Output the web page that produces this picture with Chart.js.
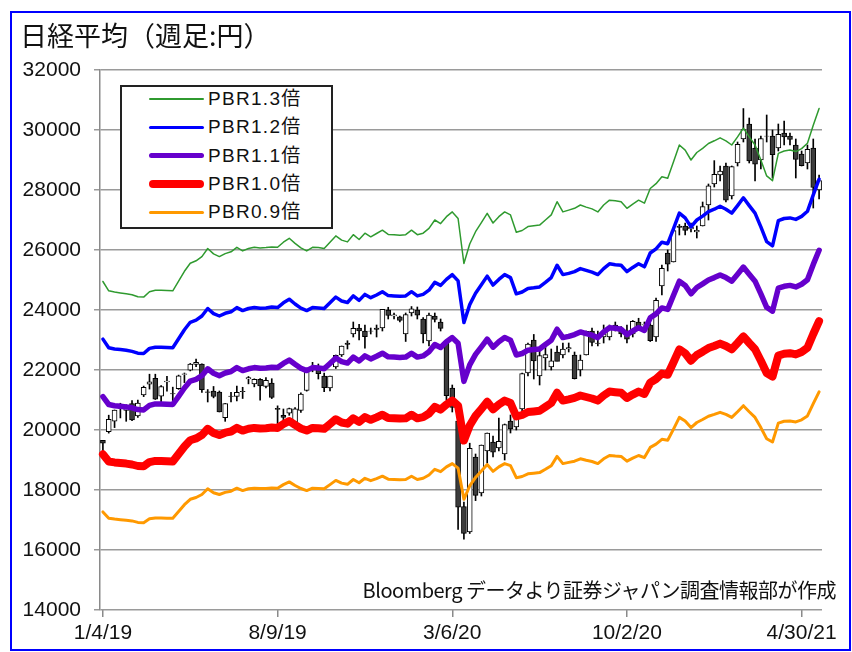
<!DOCTYPE html>
<html>
<head>
<meta charset="utf-8">
<script src="https://cdn.jsdelivr.net/npm/chart.js@4/dist/chart.umd.min.js"></script>
<style>
  html, body { margin: 0; padding: 0; background: #fff; }
  #wrap { position: relative; width: 852px; height: 652px; overflow: hidden; }
  #frame { position: absolute; left: 10px; top: 11px; width: 837px; height: 636px; border: 2px solid #0000ff; }
  #chart { position: absolute; left: 0; top: 0; }
  #title { position: absolute; left: 20px; top: 21px; font: 27px "Noto Sans CJK JP"; line-height: 1; color: #111; white-space: nowrap; }
  #legend { position: absolute; left: 120px; top: 85px; width: 209px; height: 140px; border: 2px solid #222; background: #fff; }
  #legend .swatch { position: absolute; left: 27px; width: 55px; border-radius: 4px; }
  #legend .label { position: absolute; left: 86px; font: 19px "Liberation Sans", "Noto Sans CJK JP"; letter-spacing: 1.3px; line-height: 1; color: #111; white-space: nowrap; }
  #note { position: absolute; right: 16px; top: 580px; font: 20px "Noto Sans CJK JP"; line-height: 1; color: #111; white-space: nowrap; letter-spacing: -0.5px; }
</style>
</head>
<body>
<div id="wrap">
  <div id="frame"></div>
  <canvas id="chart" width="852" height="652"></canvas>
  <div id="title">日経平均（週足:円）</div>
  <div id="legend"></div>
  <div id="note">Bloomberg データより証券ジャパン調査情報部が作成</div>
</div>
<script>
// weekly candles, 1/4/19 .. 5/21/21 (week of 5/3/19 market closed)
const weeks = [];
for (let d = new Date(2019, 0, 4); weeks.length < 124; d.setDate(d.getDate() + 7)) {
  if (d.getFullYear() === 2019 && d.getMonth() === 4 && d.getDate() === 3) continue;
  weeks.push((d.getMonth() + 1) + '/' + d.getDate() + '/' + String(d.getFullYear()).slice(2));
}
const tickLabels = ['1/4/19', '8/9/19', '3/6/20', '10/2/20', '4/30/21'];

const opens = [
  19655, 19944, 20296, 20719, 20649, 20884, 20471, 21170, 21528, 21726,
  21125, 21600, 21210, 21378, 21850, 21996, 22189, 22200, 21275, 21294,
  21261, 20410, 21134, 21119, 21285, 21699, 21534, 21693, 21454, 21566,
  20723, 20493, 20563, 20260, 20650, 21318, 22000, 22100, 21800, 21400,
  22100, 22500, 22900, 23200, 23400, 23300, 23300, 23400, 23400, 24000,
  23800, 23770, 23200, 23900, 24000, 23700, 22970, 23800, 23600, 22900,
  21400, 20300, 17450, 16600, 19100, 17900, 19300, 19600, 19400, 19200,
  20300, 20100, 20700, 21900, 23000, 21800, 22400, 22100, 22600, 22500,
  22700, 22500, 22000, 22500, 23300, 22900, 23100, 23100, 23500, 23400,
  23300, 23200, 23600, 23500, 23500, 23100, 24800, 25900, 25600, 26800,
  26800, 26700, 26600, 26800, 27500, 28200, 28500, 28800, 27800, 28900,
  29700, 30200, 29400, 29000, 29800, 29800, 29400, 29900, 29800, 29500,
  29200, 28900, 29400, 28000
];
const highs = [
  19655, 20494, 20666, 20892, 20841, 20981, 21000, 21464, 21860, 21860,
  21480, 21793, 21428, 21830, 21900, 22219, 22362, 22203, 21349, 21451,
  21301, 20885, 21259, 21462, 21424, 21784, 21706, 21718, 21744, 21710,
  20805, 20700, 20731, 20746, 21242, 21988, 22255, 22200, 21900, 21800,
  22500, 22800, 22975, 23600, 23520, 23500, 23400, 23500, 24023, 24091,
  23900, 23800, 23900, 24115, 24100, 23750, 23900, 23900, 23700, 23000,
  21500, 20400, 17600, 19560, 19200, 19500, 19900, 19800, 20400, 20200,
  20500, 20600, 21900, 22900, 23185, 22700, 22800, 22700, 22800, 22900,
  22900, 22600, 22500, 23300, 23400, 23300, 23500, 23500, 23600, 23450,
  23500, 23650, 23725, 23600, 23550, 24400, 25500, 26000, 26700, 26850,
  26900, 26900, 26800, 27600, 28200, 28979, 28800, 28900, 28800, 29600,
  30715, 30400, 29700, 29800, 30500, 30000, 30200, 30300, 29900, 29700,
  29300, 29500, 29700, 28500
];
const lows = [
  19241, 19896, 20080, 20402, 20290, 20315, 20419, 21113, 21364, 21017,
  20938, 21291, 20911, 21354, 21580, 21970, 22115, 21256, 20934, 21071,
  20601, 20289, 20935, 20972, 21050, 21538, 21438, 20993, 21400, 21048,
  20110, 20184, 20490, 20173, 20583, 21295, 21940, 21700, 21276, 21300,
  22050, 22450, 22700, 23100, 23000, 22727, 23200, 23100, 23300, 23700,
  23700, 23600, 22951, 23800, 23700, 22900, 22800, 23600, 23300, 21000,
  20600, 16690, 16358, 16550, 17646, 17800, 18900, 19100, 19300, 19000,
  19900, 20000, 20600, 21800, 21700, 21500, 22000, 22000, 22300, 22400,
  22600, 21700, 21800, 22500, 22800, 22800, 22900, 23000, 23300, 23100,
  22900, 23100, 23400, 23400, 22950, 22950, 24500, 25300, 25600, 26500,
  26500, 26600, 26400, 26800, 27000, 28100, 28300, 27600, 27700, 28800,
  29600, 28900, 28300, 28700, 29600, 28400, 29300, 29500, 29500, 28400,
  28800, 28700, 27400, 27700
];
const closes = [
  19561, 20359, 20666, 20773, 20788, 20333, 20900, 21425, 21602, 21025,
  21450, 21627, 21205, 21807, 21870, 22200, 22258, 21344, 21250, 21117,
  20601, 20884, 21116, 21258, 21275, 21746, 21685, 21466, 21658, 21087,
  20684, 20418, 20710, 20704, 21199, 21988, 22079, 21879, 21410, 21798,
  22492, 22799, 22851, 23391, 23303, 23112, 23293, 23354, 24023, 23816,
  23837, 23656, 23850, 24041, 23827, 23205, 23827, 23687, 23386, 21142,
  20749, 17431, 16552, 19389, 17820, 19498, 19897, 19262, 19619, 20179,
  20037, 20388, 21877, 22863, 22305, 22478, 22512, 22306, 22290, 22696,
  22751, 21710, 22329, 23289, 22920, 22882, 23205, 23406, 23360, 23204,
  23029, 23619, 23410, 23516, 22977, 24325, 25385, 25527, 26644, 26751,
  26652, 26763, 26656, 27444, 28139, 28519, 28631, 27663, 28779, 29520,
  30017, 28966, 28864, 29717, 29792, 29176, 29854, 29768, 29683, 29020,
  28812, 29357, 28084, 28317
];

const pbr13 = [
  24950, 24640, 24600, 24570, 24540, 24510, 24440, 24430, 24610, 24660,
  24660, 24650, 24640, 24960, 25290, 25560, 25640, 25780, 26050, 25870,
  25780, 25880, 25940, 26090, 25970, 26050, 26090, 26070, 26080, 26100,
  26090, 26260, 26390, 26220, 26070, 25970, 26090, 26080, 26050, 26260,
  26470, 26330, 26270, 26510, 26350, 26560, 26440, 26550, 26660, 26520,
  26510, 26490, 26510, 26660, 26510, 26560, 26720, 27000, 26880, 27110,
  27270, 27050, 25550, 26200, 26610, 26910, 27220, 26900, 27110, 27270,
  27170, 26590, 26650, 26780, 26810, 26830, 27000, 27170, 27610, 27270,
  27330, 27390, 27500, 27430, 27370, 27270, 27500, 27660, 27640, 27610,
  27390, 27530, 27660, 27560, 28050, 28210, 28440, 28390, 28940, 29500,
  29330, 29000, 29250, 29390, 29550, 29640, 29740, 29640, 29500, 29770,
  30060, 29770, 29500, 29000, 28470, 28310, 29220, 29300, 29330, 29280,
  29380, 29560, 30160, 30720
];
const pbr12 = [
  23030, 22740, 22700, 22680, 22660, 22620, 22560, 22550, 22720, 22760,
  22760, 22750, 22740, 23040, 23340, 23590, 23660, 23800, 24050, 23880,
  23800, 23890, 23940, 24080, 23980, 24050, 24080, 24060, 24070, 24100,
  24080, 24240, 24360, 24200, 24060, 23980, 24080, 24070, 24050, 24240,
  24430, 24300, 24250, 24470, 24320, 24520, 24410, 24500, 24610, 24480,
  24470, 24460, 24470, 24610, 24470, 24520, 24660, 24920, 24820, 25020,
  25180, 24970, 23580, 24180, 24560, 24840, 25130, 24830, 25020, 25180,
  25080, 24540, 24600, 24720, 24740, 24770, 24920, 25080, 25490, 25180,
  25220, 25280, 25380, 25320, 25260, 25180, 25380, 25540, 25510, 25490,
  25280, 25420, 25540, 25440, 25900, 26040, 26260, 26210, 26710, 27230,
  27070, 26770, 27000, 27130, 27280, 27360, 27460, 27360, 27230, 27480,
  27740, 27480, 27230, 26770, 26280, 26140, 26980, 27050, 27070, 27020,
  27120, 27290, 27840, 28360
];
const pbr11 = [
  21110, 20850, 20810, 20790, 20770, 20740, 20680, 20670, 20820, 20870,
  20870, 20860, 20850, 21120, 21400, 21630, 21690, 21810, 22040, 21890,
  21810, 21900, 21950, 22080, 21980, 22040, 22080, 22060, 22070, 22090,
  22080, 22220, 22330, 22190, 22060, 21980, 22080, 22070, 22040, 22220,
  22400, 22280, 22230, 22430, 22300, 22470, 22370, 22460, 22560, 22440,
  22430, 22420, 22430, 22560, 22430, 22470, 22610, 22850, 22750, 22940,
  23080, 22890, 21620, 22170, 22520, 22770, 23030, 22760, 22940, 23080,
  22990, 22500, 22550, 22660, 22680, 22700, 22850, 22990, 23360, 23080,
  23120, 23180, 23270, 23210, 23160, 23080, 23270, 23410, 23390, 23360,
  23180, 23300, 23410, 23320, 23740, 23870, 24070, 24020, 24490, 24960,
  24820, 24540, 24750, 24870, 25000, 25080, 25170, 25080, 24960, 25190,
  25430, 25190, 24960, 24540, 24090, 23960, 24730, 24790, 24820, 24770,
  24860, 25010, 25520, 25990
];
const pbr10 = [
  19190, 18950, 18920, 18900, 18880, 18850, 18800, 18790, 18930, 18970,
  18970, 18960, 18950, 19200, 19450, 19660, 19720, 19830, 20040, 19900,
  19830, 19910, 19950, 20070, 19980, 20040, 20070, 20050, 20060, 20080,
  20070, 20200, 20300, 20170, 20050, 19980, 20070, 20060, 20040, 20200,
  20360, 20250, 20210, 20390, 20270, 20430, 20340, 20420, 20510, 20400,
  20390, 20380, 20390, 20510, 20390, 20430, 20550, 20770, 20680, 20850,
  20980, 20810, 19650, 20150, 20470, 20700, 20940, 20690, 20850, 20980,
  20900, 20450, 20500, 20600, 20620, 20640, 20770, 20900, 21240, 20980,
  21020, 21070, 21150, 21100, 21050, 20980, 21150, 21280, 21260, 21240,
  21070, 21180, 21280, 21200, 21580, 21700, 21880, 21840, 22260, 22690,
  22560, 22310, 22500, 22610, 22730, 22800, 22880, 22800, 22690, 22900,
  23120, 22900, 22690, 22310, 21900, 21780, 22480, 22540, 22560, 22520,
  22600, 22740, 23200, 23630
];
const pbr09 = [
  17270, 17060, 17030, 17010, 16990, 16970, 16920, 16910, 17040, 17070,
  17070, 17060, 17060, 17280, 17510, 17690, 17750, 17850, 18040, 17910,
  17850, 17920, 17960, 18060, 17980, 18040, 18060, 18050, 18050, 18070,
  18060, 18180, 18270, 18150, 18050, 17980, 18060, 18050, 18040, 18180,
  18320, 18230, 18190, 18350, 18240, 18390, 18310, 18380, 18460, 18360,
  18350, 18340, 18350, 18460, 18350, 18390, 18500, 18690, 18610, 18770,
  18880, 18730, 17690, 18140, 18420, 18630, 18850, 18620, 18770, 18880,
  18810, 18410, 18450, 18540, 18560, 18580, 18690, 18810, 19120, 18880,
  18920, 18960, 19040, 18990, 18950, 18880, 19040, 19150, 19130, 19120,
  18960, 19060, 19150, 19080, 19420, 19530, 19690, 19660, 20030, 20420,
  20300, 20080, 20250, 20350, 20460, 20520, 20590, 20520, 20420, 20610,
  20810, 20610, 20420, 20080, 19710, 19600, 20230, 20290, 20300, 20270,
  20340, 20470, 20880, 21270
];

const seriesNames = ['PBR1.3倍', 'PBR1.2倍', 'PBR1.1倍', 'PBR1.0倍', 'PBR0.9倍'];
const seriesData = [pbr13, pbr12, pbr11, pbr10, pbr09];
const seriesColors = ['#2f9a2f', '#0000ff', '#6600cc', '#ff0000', '#ff9900'];
const seriesWidths = [1.5, 3.5, 5.5, 8, 3];

const tickFont = { family: 'Liberation Sans', size: 21 };

const lineSets = seriesNames.map((name, k) => ({
  type: 'line',
  label: name,
  data: seriesData[k],
  borderColor: seriesColors[k],
  backgroundColor: seriesColors[k],
  borderWidth: seriesWidths[k],
  pointRadius: 0,
  fill: false,
  tension: 0,
  borderJoinStyle: 'round',
  borderCapStyle: 'round',
  order: 0
}));

const bodySet = {
  type: 'bar',
  label: 'body',
  data: opens.map((o, i) => [o, closes[i]]),
  backgroundColor: opens.map((o, i) => closes[i] >= o ? '#ffffff' : '#3c3c3c'),
  borderColor: '#000',
  borderWidth: 1,
  borderSkipped: false,
  barThickness: 5,
  grouped: false,
  order: 1
};
const wickSet = {
  type: 'bar',
  label: 'wick',
  data: lows.map((l, i) => [l, highs[i]]),
  backgroundColor: '#000',
  barThickness: 1,
  grouped: false,
  order: 2
};

new Chart(document.getElementById('chart').getContext('2d'), {
  type: 'bar',
  data: { labels: weeks, datasets: [...lineSets, bodySet, wickSet] },
  options: {
    responsive: false,
    animation: false,
    layout: { padding: { top: 70, right: 30, bottom: 0, left: 0 } },
    plugins: { legend: { display: false }, tooltip: { enabled: false } },
    scales: {
      x: {
        offset: true,
        border: { display: false },
        grid: {
          drawOnChartArea: false,
          offset: false,
          tickLength: 7,
          lineWidth: 1.5,
          color: ctx => tickLabels.includes(weeks[ctx.index]) ? '#8a8a8a' : 'rgba(0,0,0,0)'
        },
        ticks: {
          autoSkip: false,
          maxRotation: 0,
          padding: 4,
          color: '#111',
          font: tickFont,
          callback: (v, i) => tickLabels.includes(weeks[i]) ? weeks[i] : ''
        },
        afterFit: s => { s.height = 42; }
      },
      y: {
        min: 14000,
        max: 32000,
        border: { color: '#8a8a8a', width: 1.5 },
        grid: { color: '#9a9a9a', lineWidth: 1.5, tickLength: 6 },
        ticks: { stepSize: 2000, padding: 13, color: '#111', font: tickFont, callback: v => String(v) },
        afterFit: s => { s.width = 100; }
      }
    }
  }
});

// legend box
const legend = document.getElementById('legend');
seriesNames.forEach((name, k) => {
  const cy = 12 + k * 28.3;
  const sw = document.createElement('div');
  sw.className = 'swatch';
  sw.style.top = (cy - seriesWidths[k] / 2) + 'px';
  sw.style.height = seriesWidths[k] + 'px';
  sw.style.background = seriesColors[k];
  legend.appendChild(sw);
  const lb = document.createElement('div');
  lb.className = 'label';
  lb.style.top = (cy - 10) + 'px';
  lb.textContent = name;
  legend.appendChild(lb);
});
</script>
</body>
</html>
